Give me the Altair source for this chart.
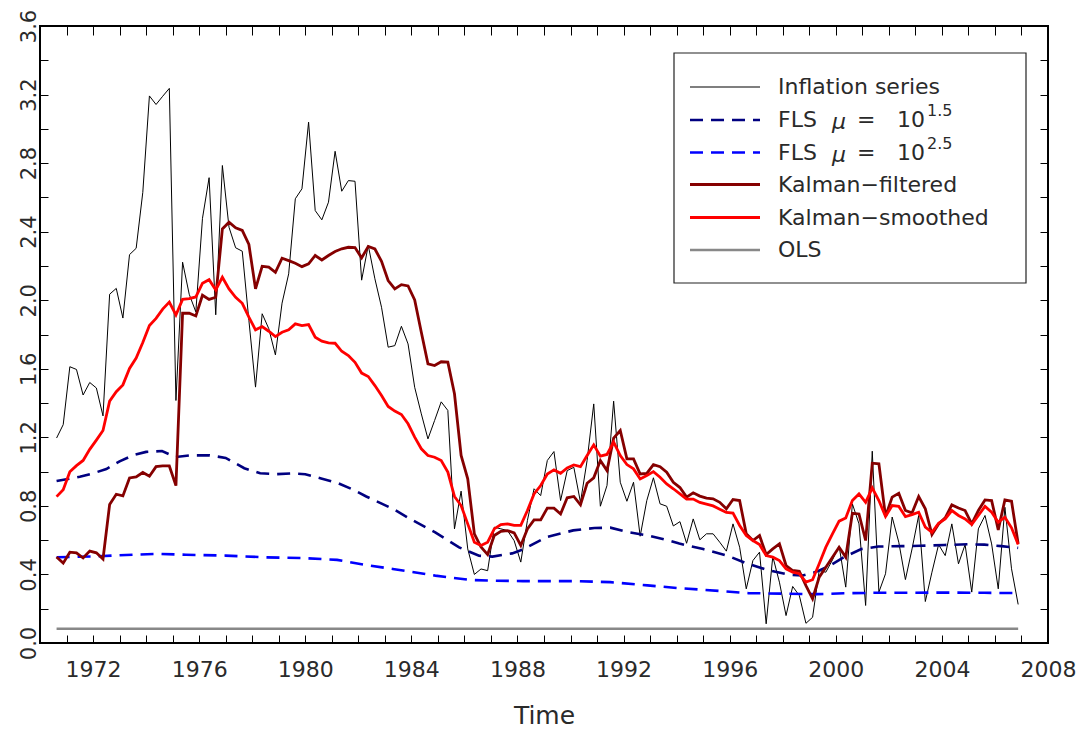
import altair as alt
import pandas as pd

# Quarterly observations, 1970Q3 .. 2006Q4, plotted at mid-quarter
start = 1970.625
step = 0.25

inflation = [
    1.196, 1.274, 1.612, 1.596, 1.447, 1.520, 1.488, 1.325, 2.035, 2.069,
    1.896, 2.266, 2.303, 2.629, 3.192, 3.142, 3.190, 3.236, 1.415, 2.222,
    2.035, 1.932, 2.478, 2.715, 1.915, 2.786, 2.426, 2.306, 2.286, 1.882,
    1.493, 1.921, 1.834, 1.681, 1.983, 2.154, 2.592, 2.650, 3.039, 2.523,
    2.469, 2.572, 2.869, 2.636, 2.698, 2.694, 2.117, 2.320, 2.125, 1.959,
    1.726, 1.735, 1.848, 1.745, 1.492, 1.337, 1.191, 1.298, 1.407, 1.357,
    0.666, 0.886, 0.549, 0.400, 0.432, 0.422, 0.676, 0.666, 0.656, 0.597,
    0.472, 0.715, 0.900, 0.860, 1.065, 1.117, 0.831, 1.006, 1.025, 0.821,
    1.065, 1.395, 0.798, 0.919, 1.411, 0.938, 0.827, 0.938, 0.623, 0.831,
    0.964, 0.812, 0.798, 0.683, 0.708, 0.582, 0.724, 0.602, 0.637, 0.637,
    0.588, 0.536, 0.695, 0.559, 0.316, 0.481, 0.530, 0.112, 0.505, 0.355,
    0.160, 0.330, 0.277, 0.115, 0.150, 0.423, 0.413, 0.485, 0.566, 0.326,
    0.812, 0.695, 0.219, 1.119, 0.297, 0.404, 0.735, 0.588, 0.370, 0.549,
    0.744, 0.242, 0.413, 0.574, 0.510, 0.695, 0.462, 0.574, 0.297, 0.666,
    0.744, 0.578, 0.316, 0.792, 0.433, 0.225,
]

kalman_filtered = [
    0.502, 0.466, 0.530, 0.526, 0.496, 0.536, 0.526, 0.490, 0.808, 0.868,
    0.858, 0.963, 0.969, 0.995, 0.973, 1.029, 1.033, 1.033, 0.918, 1.924,
    1.924, 1.908, 2.029, 2.005, 2.017, 2.416, 2.455, 2.422, 2.407, 2.325,
    2.066, 2.198, 2.193, 2.163, 2.245, 2.231, 2.216, 2.196, 2.212, 2.261,
    2.235, 2.261, 2.284, 2.300, 2.309, 2.307, 2.247, 2.314, 2.299, 2.227,
    2.115, 2.066, 2.091, 2.083, 2.002, 1.813, 1.629, 1.619, 1.641, 1.639,
    1.454, 1.094, 0.958, 0.637, 0.560, 0.516, 0.627, 0.652, 0.656, 0.642,
    0.569, 0.665, 0.718, 0.718, 0.787, 0.787, 0.753, 0.847, 0.855, 0.806,
    0.932, 0.964, 1.065, 1.006, 1.195, 1.240, 1.074, 1.074, 0.986, 0.990,
    1.041, 1.029, 0.996, 0.938, 0.907, 0.851, 0.876, 0.857, 0.845, 0.841,
    0.821, 0.783, 0.837, 0.831, 0.637, 0.598, 0.627, 0.516, 0.549, 0.578,
    0.452, 0.423, 0.419, 0.335, 0.258, 0.384, 0.442, 0.500, 0.559, 0.501,
    0.757, 0.753, 0.598, 1.049, 1.045, 0.738, 0.851, 0.874, 0.773, 0.759,
    0.855, 0.783, 0.633, 0.695, 0.730, 0.806, 0.788, 0.773, 0.695, 0.773,
    0.835, 0.831, 0.660, 0.835, 0.827, 0.579,
]

kalman_smoothed = [
    0.854, 0.894, 0.999, 1.035, 1.065, 1.130, 1.184, 1.240, 1.411, 1.466,
    1.506, 1.602, 1.663, 1.753, 1.852, 1.894, 1.948, 1.989, 1.914, 2.005,
    2.009, 2.019, 2.099, 2.120, 2.060, 2.134, 2.066, 2.017, 1.982, 1.901,
    1.827, 1.846, 1.819, 1.788, 1.813, 1.827, 1.862, 1.852, 1.858, 1.784,
    1.761, 1.751, 1.749, 1.702, 1.677, 1.638, 1.575, 1.555, 1.502, 1.444,
    1.380, 1.353, 1.333, 1.279, 1.201, 1.133, 1.094, 1.084, 1.065, 0.997,
    0.855, 0.802, 0.695, 0.588, 0.569, 0.588, 0.666, 0.691, 0.695, 0.686,
    0.686, 0.773, 0.870, 0.919, 0.986, 1.010, 0.990, 1.021, 1.039, 1.029,
    1.094, 1.156, 1.090, 1.100, 1.172, 1.094, 1.041, 1.016, 0.957, 0.977,
    1.000, 0.967, 0.928, 0.900, 0.870, 0.840, 0.840, 0.820, 0.810, 0.800,
    0.781, 0.762, 0.758, 0.686, 0.627, 0.598, 0.575, 0.510, 0.501, 0.481,
    0.433, 0.413, 0.404, 0.355, 0.369, 0.462, 0.559, 0.637, 0.711, 0.730,
    0.831, 0.870, 0.821, 0.905, 0.831, 0.738, 0.802, 0.797, 0.738, 0.749,
    0.763, 0.676, 0.646, 0.699, 0.724, 0.773, 0.744, 0.724, 0.691, 0.744,
    0.797, 0.763, 0.705, 0.734, 0.672, 0.575,
]

# Flexible least squares paths (smooth, sampled along the time axis)
fls15_time = [
    1970.625, 1971.5, 1972.0, 1972.5, 1973.0, 1973.5, 1974.0, 1974.6, 1975.1,
    1975.7, 1976.4, 1977.0, 1977.7, 1978.3, 1978.9, 1979.5, 1980.0, 1980.6,
    1981.2, 1981.8, 1982.3, 1983.3, 1984.0, 1984.9, 1985.8, 1986.55, 1987.06,
    1987.8, 1988.2, 1989.1, 1990.1, 1990.9, 1991.5, 1992.15, 1992.9, 1993.7,
    1994.1, 1995.0, 1995.9, 1996.7, 1997.5, 1998.25, 1998.75, 1999.26,
    1999.76, 2000.3, 2000.96, 2001.6, 2002.5, 2003.2, 2004.1, 2005.0, 2005.6,
    2006.24, 2006.875,
]
fls15_value = [
    0.945, 0.970, 0.990, 1.015, 1.060, 1.095, 1.115, 1.120, 1.085,
    1.095, 1.095, 1.080, 1.020, 0.990, 0.985, 0.990, 0.985, 0.960,
    0.935, 0.895, 0.855, 0.783, 0.720, 0.646, 0.558, 0.509, 0.504,
    0.523, 0.545, 0.618, 0.657, 0.671, 0.673, 0.647, 0.628, 0.598,
    0.580, 0.548, 0.510, 0.461, 0.423, 0.399, 0.394, 0.415,
    0.450, 0.500, 0.548, 0.563, 0.565, 0.567, 0.572, 0.576, 0.574,
    0.565, 0.555,
]

fls25_time = [
    1970.625, 1972.0, 1973.5, 1974.5, 1975.5, 1977.0, 1978.5, 1980.0, 1981.2,
    1982.3, 1983.3, 1984.9, 1986.2, 1987.0, 1988.2, 1990.1, 1991.5, 1992.9,
    1994.1, 1995.7, 1996.7, 1998.0, 1999.3, 2000.3, 2001.5, 2004.0, 2005.6,
    2006.875,
]
fls25_value = [
    0.500, 0.505, 0.515, 0.520, 0.515, 0.510, 0.500, 0.495, 0.485,
    0.455, 0.432, 0.393, 0.368, 0.364, 0.361, 0.361, 0.355, 0.336,
    0.320, 0.303, 0.291, 0.288, 0.285, 0.290, 0.293, 0.294, 0.293,
    0.291,
]

ols_value = 0.083

legend_labels = ["Inflation series", "FLS", "FLS", "Kalman\u2212filtered",
                 "Kalman\u2212smoothed", "OLS"]
legend_exponents = ["1.5", "2.5"]
x_ticks = list(range(1970, 2009))
y_ticks = [round(0.2 * k, 1) for k in range(19)]

FONT = "DejaVu Sans"
TEXT_COLOR = "#2a2a2a"

times = [start + step * i for i in range(len(inflation))]


def frame(t, v):
    return pd.DataFrame({"t": t, "v": v})


x_scale = alt.Scale(domain=[1970, 2008], nice=False, zero=False)
y_scale = alt.Scale(domain=[0, 3.6], nice=False, zero=False)

bottom_axis = alt.Axis(
    orient="bottom", values=x_ticks, format="d",
    labelExpr="datum.value % 4 == 0 ? datum.label : ''",
    tickSize=8, offset=-8, domain=False, grid=False, tickColor="black",
    labelFont=FONT, labelFontSize=22, labelColor=TEXT_COLOR,
    labelBaseline="alphabetic", labelPadding=33,
    labelFlush=False, labelOverlap=False,
    title="Time", titleFont=FONT, titleFontSize=25, titleFontWeight="normal",
    titleColor=TEXT_COLOR, titleBaseline="alphabetic", titleY=88,
)
left_axis = alt.Axis(
    orient="left", values=y_ticks,
    labelExpr="round(datum.value * 10) % 4 == 0 ? format(datum.value, '.1f') : ''",
    tickSize=8, offset=-8, domain=False, grid=False, tickColor="black",
    labelFont=FONT, labelFontSize=21, labelColor=TEXT_COLOR,
    labelAngle=270, labelAlign="center", labelBaseline="alphabetic",
    labelPadding=5, labelFlush=False, labelOverlap=False, title=None,
)
top_axis = alt.Axis(
    orient="top", values=x_ticks, labels=False, tickSize=9, offset=-9,
    domain=False, grid=False, tickColor="black", title=None,
)
right_axis = alt.Axis(
    orient="right", values=y_ticks, labels=False, tickSize=8, offset=-8,
    domain=False, grid=False, tickColor="black", title=None,
)


def series(df, color, width, dash=None, xaxis=None, yaxis=None):
    kw = dict(color=color, strokeWidth=width, clip=True)
    if dash:
        kw["strokeDash"] = dash
    return alt.Chart(df).mark_line(**kw).encode(
        x=alt.X("t:Q", scale=x_scale, axis=xaxis),
        y=alt.Y("v:Q", scale=y_scale, axis=yaxis),
    )


DASH = [13, 8]
layers = [
    series(frame(times, inflation), "black", 1, xaxis=bottom_axis, yaxis=left_axis),
    series(frame(fls15_time, fls15_value), "#000080", 2.6, DASH),
    series(frame(fls25_time, fls25_value), "#0000ff", 2.6, DASH),
    series(frame(times, kalman_filtered), "#850000", 2.8),
    series(frame(times, kalman_smoothed), "#ff0000", 2.8),
    series(frame([times[0], times[-1]], [ols_value, ols_value]), "#888888", 2.6,
           xaxis=top_axis, yaxis=right_axis),
]

# Legend box drawn in pixel space of the plot area
one = pd.DataFrame({"k": [0]})
layers.append(
    alt.Chart(one).mark_rect(fill="white", stroke="#222222", strokeWidth=1.2).encode(
        x=alt.value(634), x2=alt.value(986), y=alt.value(27), y2=alt.value(257)
    )
)
row_y = [61, 94, 126.5, 158.5, 191.5, 224]
legend_styles = [
    ("black", 1.2, None), ("#000080", 2.6, DASH), ("#0000ff", 2.6, DASH),
    ("#850000", 2.8, None), ("#ff0000", 2.8, None), ("#888888", 2.6, None),
]
for i, (label, (color, width, dash)) in enumerate(zip(legend_labels, legend_styles)):
    kw = dict(color=color, strokeWidth=width)
    if dash:
        kw["strokeDash"] = dash
    layers.append(
        alt.Chart(one).mark_rule(**kw).encode(
            x=alt.value(650), x2=alt.value(720), y=alt.value(row_y[i])
        )
    )
    layers.append(
        alt.Chart(pd.DataFrame({"label": [label]})).mark_text(
            align="left", baseline="middle", font=FONT, fontSize=22, color=TEXT_COLOR
        ).encode(x=alt.value(738), y=alt.value(row_y[i]), text="label:N")
    )


def legend_piece(s, x, y, size=22, style="normal"):
    return alt.Chart(pd.DataFrame({"s": [s]})).mark_text(
        align="left", baseline="middle", font=FONT, fontSize=size,
        fontStyle=style, color=TEXT_COLOR
    ).encode(x=alt.value(x), y=alt.value(y), text="s:N")


# the  "mu = 10^e"  part of the two FLS entries
for j, expo in enumerate(legend_exponents):
    yy = row_y[1 + j]
    layers.append(legend_piece("\u03bc", 792, yy + 2, style="italic"))
    layers.append(legend_piece("=", 817, yy))
    layers.append(legend_piece("10", 857, yy))
    layers.append(legend_piece(expo, 887, yy - 9, size=16))

chart = (
    alt.layer(*layers)
    .resolve_axis(x="independent", y="independent")
    .properties(
        width=1008, height=617,
        autosize=alt.AutoSizeParams(type="none"),
        padding={"left": 40, "top": 26, "right": 38, "bottom": 88},
        background="white",
    )
    .configure_view(stroke="black", strokeWidth=2)
)

chart.save("out.html", embed_options={"renderer": "svg", "actions": False})
